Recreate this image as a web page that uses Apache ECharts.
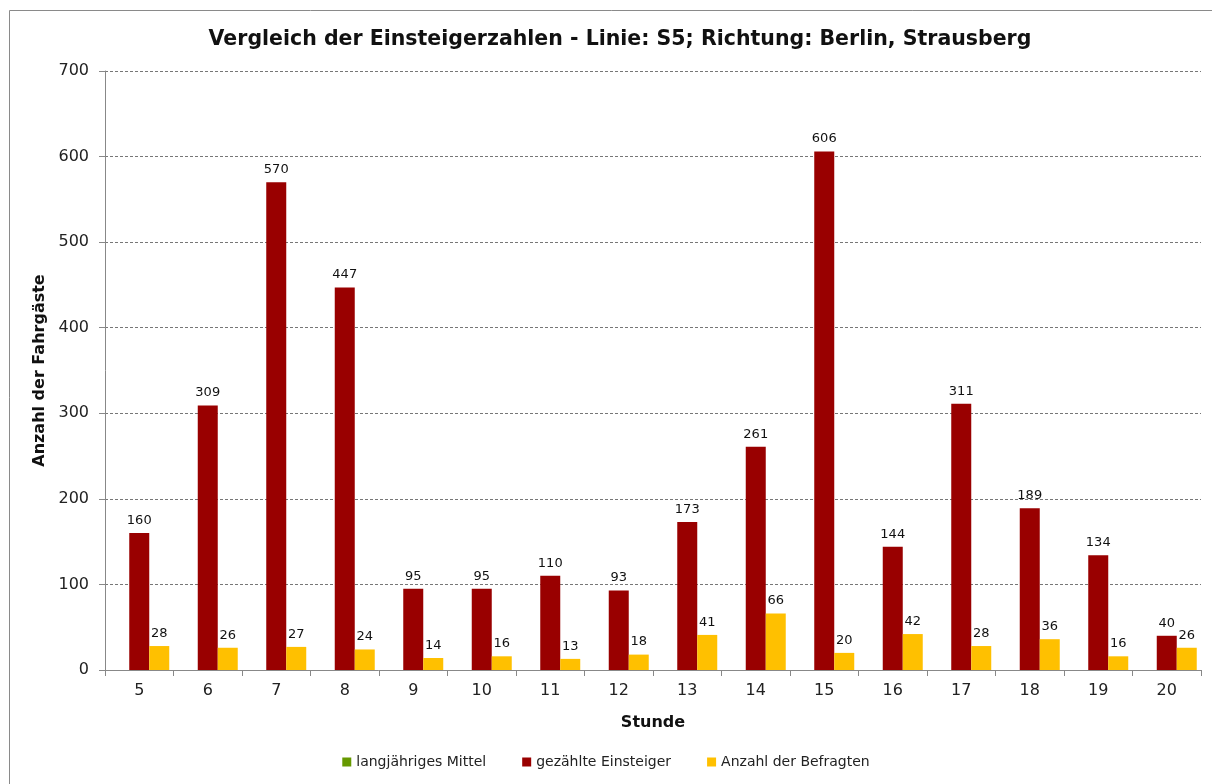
<!DOCTYPE html>
<html><head><meta charset="utf-8">
<script src="https://cdn.jsdelivr.net/npm/echarts@6/dist/echarts.min.js"></script>
<style>html,body{margin:0;padding:0;background:#fff}#c{width:1212px;height:784px}</style>
</head><body><div id="c"></div>
<script>
const categories = ['5','6','7','8','9','10','11','12','13','14','15','16','17','18','19','20'];
const mittel = [null,null,null,null,null,null,null,null,null,null,null,null,null,null,null,null];
const einsteiger = [160,309,570,447,95,95,110,93,173,261,606,144,311,189,134,40];
const befragte = [28,26,27,24,14,16,13,18,41,66,20,42,28,36,16,26];
const yTicks = [0,100,200,300,400,500,600,700];

const FONT = 'DejaVu Sans';
const chart = echarts.init(document.getElementById('c'));
const lbl = {show:true, position:'top', color:'#111', fontSize:13, fontFamily:FONT, distance:6};
chart.setOption({
  animation:false,
  textStyle:{fontFamily:FONT},
  title:{text:'Vergleich der Einsteigerzahlen - Linie: S5; Richtung: Berlin, Strausberg', left:615, textAlign:'center', top:24,
    textStyle:{fontFamily:FONT, fontWeight:'bold', fontSize:20.5, color:'#111'}},
  graphic:[{type:'rect', shape:{x:9.5,y:10.5,width:1300,height:900}, style:{fill:null, stroke:'#8a8a8a', lineWidth:1}, silent:true}],
  legend:{bottom:10, left:'center', itemWidth:9, itemHeight:9, itemGap:36, icon:'rect',
    textStyle:{fontFamily:FONT, fontSize:14, color:'#222'},
    data:['langjähriges Mittel','gezählte Einsteiger','Anzahl der Befragten']},
  grid:{left:105, right:11, top:71, bottom:114, containLabel:false},
  xAxis:{type:'category', data:categories, name:'Stunde', nameLocation:'middle', nameGap:45,
    nameTextStyle:{fontFamily:FONT, fontWeight:'bold', fontSize:16, color:'#111'},
    axisLine:{lineStyle:{color:'#888'}}, axisTick:{show:true, length:6, lineStyle:{color:'#888'}},
    axisLabel:{fontSize:16, color:'#222', margin:13, fontFamily:FONT}},
  yAxis:{type:'value', min:yTicks[0], max:yTicks[yTicks.length-1], interval:100,
    name:'Anzahl der Fahrgäste', nameLocation:'middle', nameGap:52, nameRotate:90,
    nameTextStyle:{fontFamily:FONT, fontWeight:'bold', fontSize:16, color:'#111'},
    axisLine:{show:true, lineStyle:{color:'#888'}}, axisTick:{show:true, length:6, lineStyle:{color:'#888'}},
    axisLabel:{fontSize:16, color:'#222', margin:16, fontFamily:FONT},
    splitLine:{lineStyle:{color:'#777', type:[3,2]}}},
  series:[
    {name:'langjähriges Mittel', type:'bar', data:mittel, barWidth:20, barGap:'0%', itemStyle:{color:'#669900'}},
    {name:'gezählte Einsteiger', type:'bar', data:einsteiger, barWidth:20, barGap:'0%', itemStyle:{color:'#990000'}, label:lbl},
    {name:'Anzahl der Befragten', type:'bar', data:befragte, barWidth:20, barGap:'0%', itemStyle:{color:'#FFC000'}, label:lbl}
  ]
});
</script></body></html>
